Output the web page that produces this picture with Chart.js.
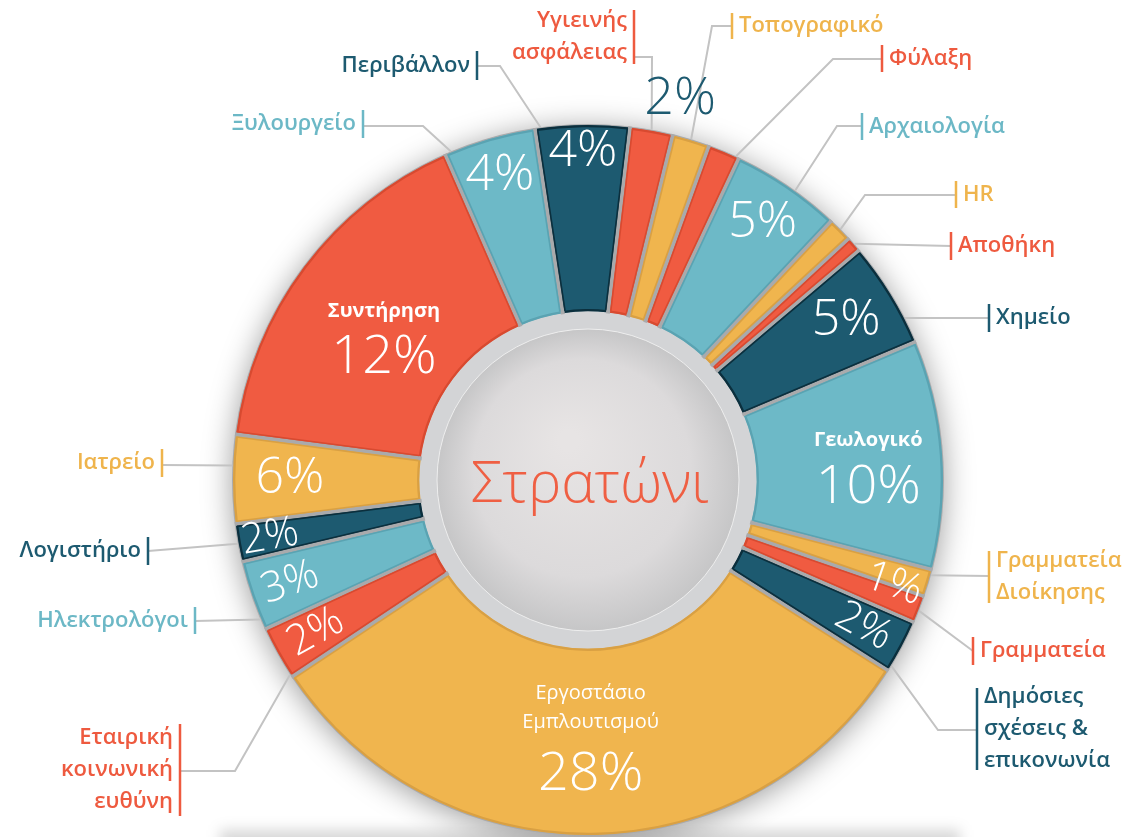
<!DOCTYPE html>
<html>
<head>
<meta charset="utf-8">
<script src="https://cdn.jsdelivr.net/npm/chart.js@4.4.0/dist/chart.umd.min.js"></script>
<style>
  html, body { margin: 0; padding: 0; background: #ffffff; }
  #wrap { width: 1125px; height: 837px; position: relative; }
</style>
</head>
<body>
<div id="wrap"><canvas id="stratoni-chart"></canvas></div>
<script>
// clockwise from Ξυλουργείο (starts a bit left of 12 o'clock)
const categories = [
  "Ξυλουργείο", "Περιβάλλον", "Υγιεινής ασφάλειας", "Τοπογραφικό", "Φύλαξη",
  "Αρχαιολογία", "HR", "Αποθήκη", "Χημείο", "Γεωλογικό",
  "Γραμματεία Διοίκησης", "Γραμματεία", "Δημόσιες σχέσεις & επικοινωνία",
  "Εργοστάσιο Εμπλουτισμού", "Εταιρική κοινωνική ευθύνη", "Ηλεκτρολόγοι",
  "Λογιστήριο", "Ιατρείο", "Συντήρηση"
];
// arc size of each slice as drawn in the picture (degrees)
const sliceValues = [15.1, 15.4, 7.0, 6.1, 5.2, 18.1, 4.0, 2.5, 17.4, 37.5, 4.5, 4.5, 8.8, 114, 8.8, 11.5, 6.2, 14.5, 58.9];
// printed percentages
const percentLabels = ["4%", "4%", "2%", "", "", "5%", "", "", "5%", "10%", "1%", "", "2%", "28%", "2%", "3%", "2%", "6%", "12%"];
const colorKeys = ["blue", "teal", "red", "yellow", "red", "blue", "yellow", "red", "teal", "blue", "yellow", "red", "teal", "yellow", "red", "blue", "teal", "yellow", "red"];
const centerTitle = "Στρατώνι";

const fills = { red: "#F05B41", yellow: "#F0B54E", blue: "#6DB9C7", teal: "#1D5A70" };
const borders = { red: "#D84A30", yellow: "#D9A043", blue: "#5AA3B2", teal: "#0B2F3D" };
const inks = { red: "#EE5A3F", yellow: "#EFB44C", blue: "#6CB8C6", teal: "#1D5A70" };

// labels inside slices: r = distance from centre, rot = turn along radius
const innerLabels = [
  { i: 0, r: 317, size: 50 },
  { i: 1, r: 328, size: 50 },
  { i: 2, r: 392, size: 52, shift: 3.3, color: inks.teal },
  { i: 5, r: 311, size: 50 },
  { i: 8, r: 303, size: 50 },
  { i: 9, r: 281, size: 54, name: ["Γεωλογικό"], nameDy: [-19], pctDy: 28, bold: true },
  { i: 10, r: 323, size: 42, shift: 2, rot: true },
  { i: 12, r: 312, size: 42, rot: true },
  { i: 13, r: 250, size: 54, name: ["Εργοστάσιο", "Εμπλουτισμού"], nameDy: [-37, -8], pctDy: 45 },
  { i: 14, r: 312, size: 42, rot: true },
  { i: 15, r: 315, size: 42, rot: true },
  { i: 16, r: 323, size: 42, rot: true },
  { i: 17, r: 298, size: 50 },
  { i: 18, r: 255, size: 54, name: ["Συντήρηση"], nameDy: [-16], pctDy: 31, bold: true }
];

// callouts: where on the arc the line leaves (frac), elbow, bar x / span, text side
const callouts = [
  { i: 0, frac: 0.07, elbow: [423, 126], barX: 363, y1: 110, y2: 138, lineY: 126, side: "left", lines: ["Ξυλουργείο"] },
  { i: 1, frac: 0.06, elbow: [500, 66], barX: 477, y1: 51, y2: 80, lineY: 66, side: "left", lines: ["Περιβάλλον"] },
  { i: 2, frac: 0.5, elbow: [652, 57], barX: 634, y1: 10, y2: 64, lineY: 57, side: "left", lines: ["Υγιεινής", "ασφάλειας"] },
  { i: 3, frac: 0.5, elbow: [712, 26], barX: 732, y1: 13, y2: 39, lineY: 26, side: "right", lines: ["Τοπογραφικό"] },
  { i: 4, frac: 0.9, elbow: [833, 59], barX: 882, y1: 45, y2: 72, lineY: 59, side: "right", lines: ["Φύλαξη"] },
  { i: 5, frac: 0.58, elbow: [837, 126], barX: 862, y1: 113, y2: 140, lineY: 126, side: "right", lines: ["Αρχαιολογία"] },
  { i: 6, frac: 0.5, elbow: [865, 195], barX: 956, y1: 181, y2: 208, lineY: 195, side: "right", lines: ["HR"] },
  { i: 7, frac: 0.5, elbow: null, barX: 951, y1: 232, y2: 260, lineY: 246, side: "right", lines: ["Αποθήκη"] },
  { i: 8, frac: 0.76, elbow: null, barX: 989, y1: 304, y2: 332, lineY: 318, side: "right", lines: ["Χημείο"] },
  { i: 10, frac: 0.2, elbow: null, barX: 989, y1: 551, y2: 603, lineY: 576, side: "right", lines: ["Γραμματεία", "Διοίκησης"] },
  { i: 11, frac: 0.55, elbow: null, barX: 973, y1: 637, y2: 665, lineY: 651, side: "right", lines: ["Γραμματεία"] },
  { i: 12, frac: 0.9, elbow: [938, 730], barX: 977, y1: 688, y2: 770, lineY: 730, side: "right", lines: ["Δημόσιες", "σχέσεις &", "επικονωνία"] },
  { i: 14, frac: 0.05, elbow: [235, 771], barX: 180, y1: 724, y2: 816, lineY: 771, side: "left", lines: ["Εταιρική", "κοινωνική", "ευθύνη"] },
  { i: 15, frac: 0.15, elbow: null, barX: 195, y1: 607, y2: 634, lineY: 621, side: "left", lines: ["Ηλεκτρολόγοι"] },
  { i: 16, frac: 0.48, elbow: null, barX: 148, y1: 537, y2: 565, lineY: 551, side: "left", lines: ["Λογιστήριο"] },
  { i: 17, frac: 0.65, elbow: null, barX: 162, y1: 449, y2: 477, lineY: 465, side: "left", lines: ["Ιατρείο"] }
];

const thinFont = '"Open Sans", "Noto Sans", sans-serif';
const labelFont = '"Open Sans", "Noto Sans", sans-serif';
const gapColor = "#a9aaac";

function ringGeometry(chart) {
  const arc = chart.getDatasetMeta(0).data[0];
  return { cx: arc.x, cy: arc.y, R: arc.outerRadius, r: arc.innerRadius };
}

function radialLine(ctx, g, angle, shift, r0, r1) {
  // line along a radius, moved sideways by `shift` px (positive = clockwise side)
  const px = -Math.sin(angle) * shift;
  const py = Math.cos(angle) * shift;
  ctx.beginPath();
  ctx.moveTo(g.cx + Math.cos(angle) * r0 + px, g.cy + Math.sin(angle) * r0 + py);
  ctx.lineTo(g.cx + Math.cos(angle) * r1 + px, g.cy + Math.sin(angle) * r1 + py);
  ctx.stroke();
}

const backdropPlugin = {
  id: "backdrop",
  beforeDatasetsDraw(chart) {
    const ctx = chart.ctx;
    const g = ringGeometry(chart);

    // soft floor shadow at the bottom edge
    ctx.save();
    ctx.filter = "blur(7px)";
    ctx.fillStyle = "rgba(0,0,0,0.16)";
    ctx.fillRect(220, 830, 740, 20);
    ctx.restore();

    // grey ring with soft shadow
    ctx.save();
    ctx.shadowColor = "rgba(0,0,0,0.38)";
    ctx.shadowBlur = 30;
    ctx.shadowOffsetY = 4;
    ctx.beginPath();
    ctx.arc(g.cx, g.cy, g.R + 1, 0, Math.PI * 2);
    ctx.fillStyle = gapColor;
    ctx.fill();
    ctx.restore();

    ctx.save();
    ctx.beginPath();
    ctx.arc(g.cx, g.cy, g.r + 6, 0, Math.PI * 2);
    ctx.fillStyle = "#d3d4d6";
    ctx.fill();

    // centre disc
    const disc = ctx.createRadialGradient(g.cx - 20, g.cy - 40, 10, g.cx, g.cy, 151);
    disc.addColorStop(0, "#e7e4e4");
    disc.addColorStop(0.7, "#dcdadb");
    disc.addColorStop(1, "#c6c6c7");
    ctx.beginPath();
    ctx.arc(g.cx, g.cy, 151, 0, Math.PI * 2);
    ctx.fillStyle = disc;
    ctx.fill();
    ctx.lineWidth = 1;
    ctx.strokeStyle = "#eeeeee";
    ctx.stroke();

    ctx.fillStyle = "#EF5F43";
    ctx.font = "300 57px " + thinFont;
    ctx.textAlign = "center";
    ctx.textBaseline = "middle";
    ctx.fillText(centerTitle, g.cx + 2, g.cy + 6);
    ctx.restore();
  },
  afterDatasetsDraw(chart) {
    const ctx = chart.ctx;
    const g = ringGeometry(chart);
    const arcs = chart.getDatasetMeta(0).data;

    // grey gaps between slices, then each slice's own edge next to the gap
    ctx.save();
    arcs.forEach(arc => {
      ctx.strokeStyle = gapColor;
      ctx.lineWidth = 4;
      radialLine(ctx, g, arc.startAngle, 0, g.r - 1, g.R + 1);
    });
    arcs.forEach((arc, k) => {
      const r0 = g.r + 2;
      const r1 = g.R - 1;
      ctx.strokeStyle = borders[colorKeys[k]];
      ctx.lineWidth = 1.6;
      radialLine(ctx, g, arc.startAngle, 2.6, r0, r1);
      radialLine(ctx, g, arc.endAngle, -2.6, r0, r1);
    });
    ctx.restore();

    // callout lines, bars and names
    callouts.forEach(c => {
      const arc = arcs[c.i];
      const a = arc.startAngle + (arc.endAngle - arc.startAngle) * c.frac;
      const sx = g.cx + Math.cos(a) * (g.R + 1);
      const sy = g.cy + Math.sin(a) * (g.R + 1);
      const key = colorKeys[c.i];

      ctx.save();
      ctx.strokeStyle = "#c3c3c3";
      ctx.lineWidth = 2;
      ctx.beginPath();
      ctx.moveTo(sx, sy);
      if (c.elbow) ctx.lineTo(c.elbow[0], c.elbow[1]);
      ctx.lineTo(c.barX, c.lineY);
      ctx.stroke();

      ctx.strokeStyle = inks[key];
      ctx.lineWidth = 2.5;
      ctx.beginPath();
      ctx.moveTo(c.barX, c.y1);
      ctx.lineTo(c.barX, c.y2);
      ctx.stroke();

      ctx.fillStyle = inks[key];
      ctx.font = "600 22px " + labelFont;
      ctx.textBaseline = "middle";
      ctx.textAlign = c.side === "left" ? "right" : "left";
      const tx = c.side === "left" ? c.barX - 7 : c.barX + 7;
      const step = 32;
      const top = (c.y1 + c.y2) / 2 - (c.lines.length - 1) * step / 2;
      c.lines.forEach((line, k) => ctx.fillText(line, tx, top + k * step));
      ctx.restore();
    });

    // percentages and names inside slices
    innerLabels.forEach(l => {
      const arc = arcs[l.i];
      let a = (arc.startAngle + arc.endAngle) / 2;
      if (l.shift) a += l.shift * Math.PI / 180;
      const x = g.cx + Math.cos(a) * l.r;
      const y = g.cy + Math.sin(a) * l.r;

      ctx.save();
      ctx.translate(x, y);
      if (l.rot) ctx.rotate(Math.cos(a) >= 0 ? a : a - Math.PI);
      ctx.textAlign = "center";
      ctx.textBaseline = "middle";
      ctx.fillStyle = l.color || "#ffffff";
      if (l.name) {
        ctx.font = (l.bold ? "700 " : "500 ") + "20px " + labelFont;
        l.name.forEach((n, k) => ctx.fillText(n, 0, l.nameDy[k]));
      }
      ctx.font = "300 " + l.size + "px " + thinFont;
      ctx.fillText(percentLabels[l.i], 0, l.pctDy || 0);
      ctx.restore();
    });
  }
};

const ctx = document.getElementById("stratoni-chart").getContext("2d");
const chart = new Chart(ctx, {
  type: "doughnut",
  data: {
    labels: categories,
    datasets: [{
      data: sliceValues,
      backgroundColor: colorKeys.map(k => fills[k]),
      borderColor: colorKeys.map(k => borders[k]),
      borderWidth: 2,
      borderAlign: "inner",
      borderJoinStyle: "miter"
    }]
  },
  options: {
    responsive: true,
    maintainAspectRatio: false,
    animation: false,
    rotation: -23.7,
    radius: 355,
    cutout: "47.5%",
    layout: { padding: { left: 51, top: 123, right: 0, bottom: 0 } },
    plugins: {
      legend: { display: false },
      tooltip: { enabled: false }
    }
  },
  plugins: [backdropPlugin]
});
</script>
</body>
</html>
